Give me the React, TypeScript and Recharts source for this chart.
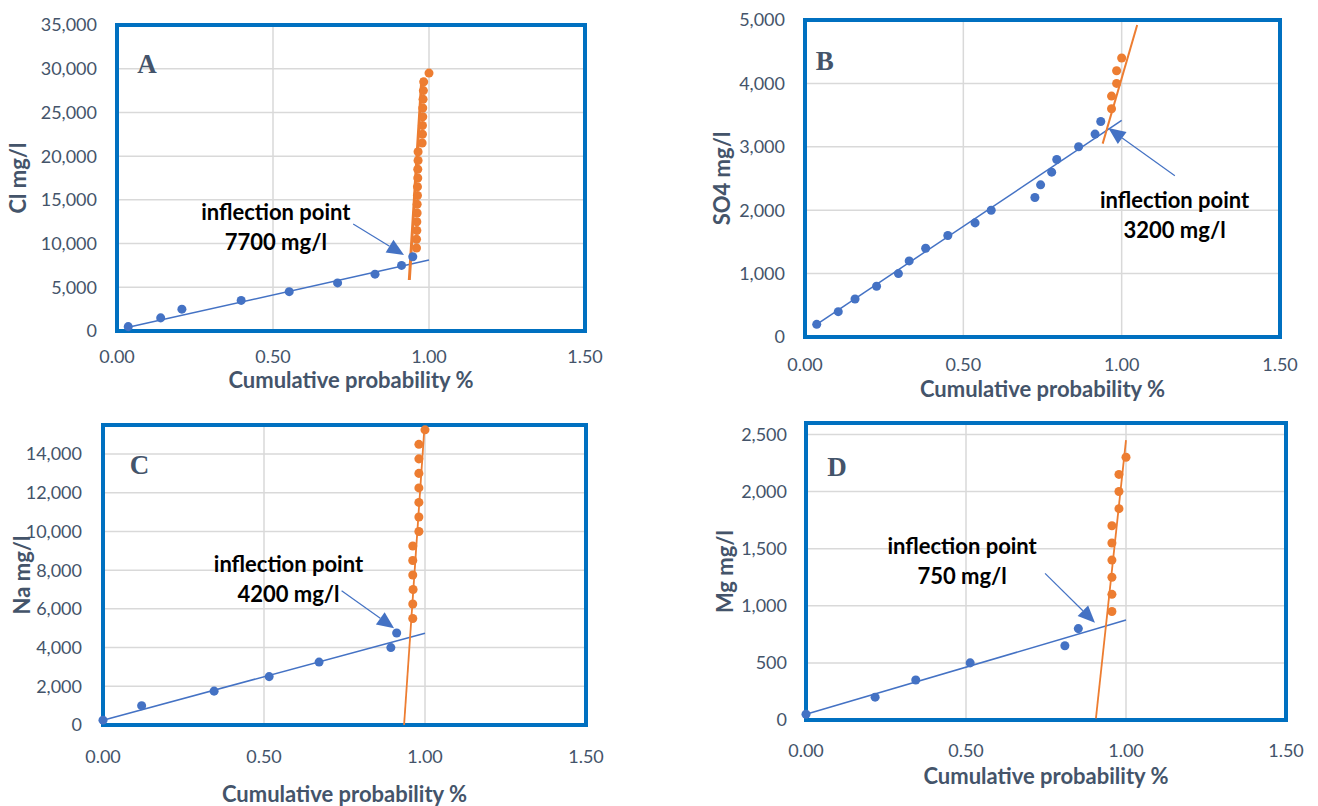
import React from "react";
import {
    ScatterChart,
    Scatter,
    XAxis,
    YAxis,
    CartesianGrid,
    ReferenceArea,
    ReferenceLine,
    ReferenceDot,
} from "recharts";

const W = 1318;
const H = 806;
const Y_W = 80;
const X_H = 40;

const BLUE = "#4472c4";
const ORANGE = "#ed7d31";
const FRAME = "#0070c0";
const SLATE = "#44546a";
const GRID = "#d9d9d9";
const FONT = "Lato, 'Open Sans', sans-serif";
const BOLD_SIZE = 22;

const probTicks = [0, 0.5, 1, 1.5];

// A - Cl
const clBlueX = [0.036, 0.14, 0.208, 0.398, 0.552, 0.707, 0.827, 0.912, 0.948];
const clBlueY = [500, 1500, 2500, 3500, 4500, 5500, 6500, 7500, 8500];
const clOrangeX = [0.96, 0.96, 0.961, 0.961, 0.962, 0.962, 0.963, 0.963, 0.964, 0.964, 0.965, 0.965, 0.978, 0.979, 0.979, 0.98, 0.98, 0.981, 0.982, 0.983, 1.0];
const clOrangeY = [9500, 10500, 11500, 12500, 13500, 14500, 15500, 16500, 17500, 18500, 19500, 20500, 21500, 22500, 23500, 24500, 25500, 26500, 27500, 28500, 29500];
const clBlueTrend = [[0.036, 420], [1.0, 8120]];
const clOrangeTrend = [[0.937, 5830], [0.977, 28900]];
const clTicks = [0, 5000, 10000, 15000, 20000, 25000, 30000, 35000];

// B - SO4
const soBlueX = [0.037, 0.105, 0.158, 0.226, 0.295, 0.329, 0.381, 0.451, 0.537, 0.588, 0.726, 0.744, 0.779, 0.795, 0.864, 0.916, 0.934];
const soBlueY = [200, 400, 600, 800, 1000, 1200, 1400, 1600, 1800, 2000, 2200, 2400, 2600, 2800, 3000, 3200, 3400];
const soOrangeX = [0.968, 0.968, 0.984, 0.984, 1.0];
const soOrangeY = [3600, 3800, 4000, 4200, 4400];
const soBlueTrend = [[0.037, 200], [1.0, 3415]];
const soOrangeTrend = [[0.94, 3050], [1.049, 4920]];
const soTicks = [0, 1000, 2000, 3000, 4000, 5000];

// C - Na
const naBlueX = [0, 0.12, 0.345, 0.516, 0.671, 0.894, 0.912];
const naBlueY = [250, 1000, 1750, 2500, 3250, 4000, 4750];
const naOrangeX = [0.962, 0.962, 0.963, 0.962, 0.962, 0.962, 0.981, 0.981, 0.981, 0.981, 0.981, 0.981, 0.981, 1.0];
const naOrangeY = [5500, 6250, 7000, 7750, 8500, 9250, 10000, 10750, 11500, 12250, 13000, 13750, 14500, 15250];
const naBlueTrend = [[0, 250], [1.0, 4740]];
const naOrangeTrend = [[0.935, 0], [0.998, 15300]];
const naTicks = [0, 2000, 4000, 6000, 8000, 10000, 12000, 14000];

// D - Mg
const mgBlueX = [0, 0.216, 0.343, 0.513, 0.809, 0.851];
const mgBlueY = [50, 200, 350, 500, 650, 800];
const mgOrangeX = [0.956, 0.956, 0.956, 0.956, 0.956, 0.956, 0.978, 0.978, 0.978, 1.0];
const mgOrangeY = [950, 1100, 1250, 1400, 1550, 1700, 1850, 2000, 2150, 2300];
const mgBlueTrend = [[0, 50], [1.0, 875]];
const mgOrangeTrend = [[0.906, 15], [1.0, 2450]];
const mgTicks = [0, 500, 1000, 1500, 2000, 2500];

const zip = (xs: number[], ys: number[]) => xs.map((x, i) => ({ x, y: ys[i] }));
const pairs = (ps: number[][]) => ps.map(([x, y]) => ({ x, y }));

const ArrowShape = (p: any) => {
    const { x1, y1, x2, y2 } = p;
    const dx = x2 - x1;
    const dy = y2 - y1;
    const len = Math.hypot(dx, dy) || 1;
    const ux = dx / len;
    const uy = dy / len;
    const hl = 17;
    const hw = 7.5;
    const bx = x2 - ux * hl;
    const by = y2 - uy * hl;
    return (
        <g>
            <line x1={x1} y1={y1} x2={bx} y2={by} stroke={BLUE} strokeWidth={1.2} />
            <polygon
                points={`${x2},${y2} ${bx - uy * hw},${by + ux * hw} ${bx + uy * hw},${by - ux * hw}`}
                fill={BLUE}
            />
        </g>
    );
};

const noteShape = (lines: string[]) => (p: any) => (
    <text textAnchor="middle" fontFamily={FONT} fontSize={BOLD_SIZE} fontWeight={700} fill="#000">
        {lines.map((t, i) => (
            <tspan key={i} x={p.cx} y={p.cy + i * 30 + 8}>
                {t}
            </tspan>
        ))}
    </text>
);

const letterShape = (letter: string) => (p: any) => (
    <text
        x={p.cx}
        y={p.cy + 9}
        textAnchor="middle"
        fontFamily="'Liberation Serif', 'DejaVu Serif', serif"
        fontSize={27}
        fontWeight={700}
        fill={SLATE}
    >
        {letter}
    </text>
);

interface PanelCfg {
    letter: string;
    letterAt: number[];
    yTitle: string;
    yMax: number;
    yTicks: number[];
    plot: { left: number; top: number; right: number; bottom: number };
    blue: { x: number; y: number }[];
    orange: { x: number; y: number }[];
    blueTrend: { x: number; y: number }[];
    orangeTrend: { x: number; y: number }[];
    orangeWidth: number;
    arrow: number[][];
    noteAt: number[];
    note: string[];
    xTickGap: number;
    yTickGap: number;
    xTitleGap: number;
    yTitleGap: number;
}

const panels: PanelCfg[] = [
    {
        letter: "A",
        letterAt: [0.096, 30540],
        yTitle: "Cl mg/l",
        yMax: 35000,
        yTicks: clTicks,
        plot: { left: 117, top: 25, right: 585, bottom: 331 },
        blue: zip(clBlueX, clBlueY),
        orange: zip(clOrangeX, clOrangeY),
        blueTrend: pairs(clBlueTrend),
        orangeTrend: pairs(clOrangeTrend),
        orangeWidth: 3,
        arrow: [[0.757, 12240], [0.92, 8690]],
        noteAt: [0.509, 13650],
        note: ["inflection point", "7700 mg/l"],
        xTickGap: 19,
        yTickGap: 20,
        xTitleGap: 50,
        yTitleGap: 99,
    },
    {
        letter: "B",
        letterAt: [0.062, 4355],
        yTitle: "SO4 mg/l",
        yMax: 5000,
        yTicks: soTicks,
        plot: { left: 805, top: 20, right: 1280, bottom: 337 },
        blue: zip(soBlueX, soBlueY),
        orange: zip(soOrangeX, soOrangeY),
        blueTrend: pairs(soBlueTrend),
        orangeTrend: pairs(soOrangeTrend),
        orangeWidth: 2,
        arrow: [[1.168, 2544], [0.958, 3295]],
        noteAt: [1.167, 2161],
        note: ["inflection point", "3200 mg/l"],
        xTickGap: 21,
        yTickGap: 20,
        xTitleGap: 53,
        yTitleGap: 83,
    },
    {
        letter: "C",
        letterAt: [0.113, 13450],
        yTitle: "Na mg/l",
        yMax: 15500,
        yTicks: naTicks,
        plot: { left: 103, top: 425, right: 586, bottom: 725 },
        blue: zip(naBlueX, naBlueY),
        orange: zip(naOrangeX, naOrangeY),
        blueTrend: pairs(naBlueTrend),
        orangeTrend: pairs(naOrangeTrend),
        orangeWidth: 1.8,
        arrow: [[0.741, 6940], [0.904, 5000]],
        noteAt: [0.576, 8300],
        note: ["inflection point", "4200 mg/l"],
        xTickGap: 25,
        yTickGap: 21,
        xTitleGap: 70,
        yTitleGap: 81,
    },
    {
        letter: "D",
        letterAt: [0.097, 2215],
        yTitle: "Mg mg/l",
        yMax: 2600,
        yTicks: mgTicks,
        plot: { left: 806, top: 423, right: 1286, bottom: 720 },
        blue: zip(mgBlueX, mgBlueY),
        orange: zip(mgOrangeX, mgOrangeY),
        blueTrend: pairs(mgBlueTrend),
        orangeTrend: pairs(mgOrangeTrend),
        orangeWidth: 1.8,
        arrow: [[0.747, 1284], [0.903, 852]],
        noteAt: [0.488, 1523],
        note: ["inflection point", "750 mg/l"],
        xTickGap: 24,
        yTickGap: 19,
        xTitleGap: 57,
        yTitleGap: 81,
    },
];

const tickStyle = { fill: SLATE, fontSize: 18, fontFamily: FONT };

const Panel: React.FC<{ cfg: PanelCfg }> = ({ cfg }) => {
    const { plot } = cfg;
    return (
        <div style={{ position: "absolute", left: 0, top: 0 }}>
            <ScatterChart
                width={W}
                height={H}
                margin={{
                    top: plot.top,
                    left: plot.left - Y_W,
                    right: W - plot.right,
                    bottom: H - plot.bottom - X_H,
                }}
            >
                <CartesianGrid stroke={GRID} strokeWidth={1.5} />
                <ReferenceArea
                    x1={0}
                    x2={1.5}
                    y1={0}
                    y2={cfg.yMax}
                    fill="none"
                    stroke={FRAME}
                    strokeWidth={4}
                    ifOverflow="visible"
                />
                <XAxis
                    type="number"
                    dataKey="x"
                    domain={[0, 1.5]}
                    ticks={probTicks}
                    height={X_H}
                    axisLine={false}
                    tickLine={false}
                    tickSize={0}
                    tickMargin={cfg.xTickGap}
                    tick={tickStyle}
                    tickFormatter={(v: number) => v.toFixed(2)}
                    label={(p: any) => {
                        const vb = p.viewBox;
                        return (
                            <text
                                x={vb.x + vb.width / 2}
                                y={vb.y + cfg.xTitleGap + 7}
                                textAnchor="middle"
                                fontFamily={FONT}
                                fontSize={BOLD_SIZE}
                                fontWeight={700}
                                fill={SLATE}
                            >
                                Cumulative probability %
                            </text>
                        );
                    }}
                />
                <YAxis
                    type="number"
                    dataKey="y"
                    domain={[0, cfg.yMax]}
                    ticks={cfg.yTicks}
                    width={Y_W}
                    axisLine={false}
                    tickLine={false}
                    tickSize={0}
                    tickMargin={cfg.yTickGap}
                    tick={tickStyle}
                    tickFormatter={(v: number) => v.toLocaleString("en-US")}
                    label={(p: any) => {
                        const vb = p.viewBox;
                        const x = vb.x + vb.width - cfg.yTitleGap + 8;
                        const y = vb.y + vb.height / 2;
                        return (
                            <text
                                x={x}
                                y={y}
                                transform={`rotate(-90 ${x} ${y})`}
                                textAnchor="middle"
                                fontFamily={FONT}
                                fontSize={BOLD_SIZE}
                                fontWeight={700}
                                fill={SLATE}
                            >
                                {cfg.yTitle}
                            </text>
                        );
                    }}
                />
                <Scatter
                    data={cfg.blueTrend}
                    line={{ stroke: BLUE, strokeWidth: 1.5 }}
                    shape={() => <g />}
                    isAnimationActive={false}
                />
                <Scatter
                    data={cfg.orangeTrend}
                    line={{ stroke: ORANGE, strokeWidth: cfg.orangeWidth }}
                    shape={() => <g />}
                    isAnimationActive={false}
                />
                <Scatter data={cfg.blue} fill={BLUE} isAnimationActive={false} />
                <Scatter data={cfg.orange} fill={ORANGE} isAnimationActive={false} />
                <ReferenceLine
                    segment={[
                        { x: cfg.arrow[0][0], y: cfg.arrow[0][1] },
                        { x: cfg.arrow[1][0], y: cfg.arrow[1][1] },
                    ]}
                    shape={ArrowShape}
                    ifOverflow="visible"
                />
                <ReferenceDot
                    x={cfg.noteAt[0]}
                    y={cfg.noteAt[1]}
                    shape={noteShape(cfg.note)}
                    ifOverflow="visible"
                />
                <ReferenceDot
                    x={cfg.letterAt[0]}
                    y={cfg.letterAt[1]}
                    shape={letterShape(cfg.letter)}
                    ifOverflow="visible"
                />
            </ScatterChart>
        </div>
    );
};

export default function App() {
    return (
        <div
            style={{
                position: "absolute",
                left: 0,
                top: 0,
                width: W,
                height: H,
                background: "#fff",
            }}
        >
            {panels.map((cfg) => (
                <Panel key={cfg.letter} cfg={cfg} />
            ))}
        </div>
    );
}
